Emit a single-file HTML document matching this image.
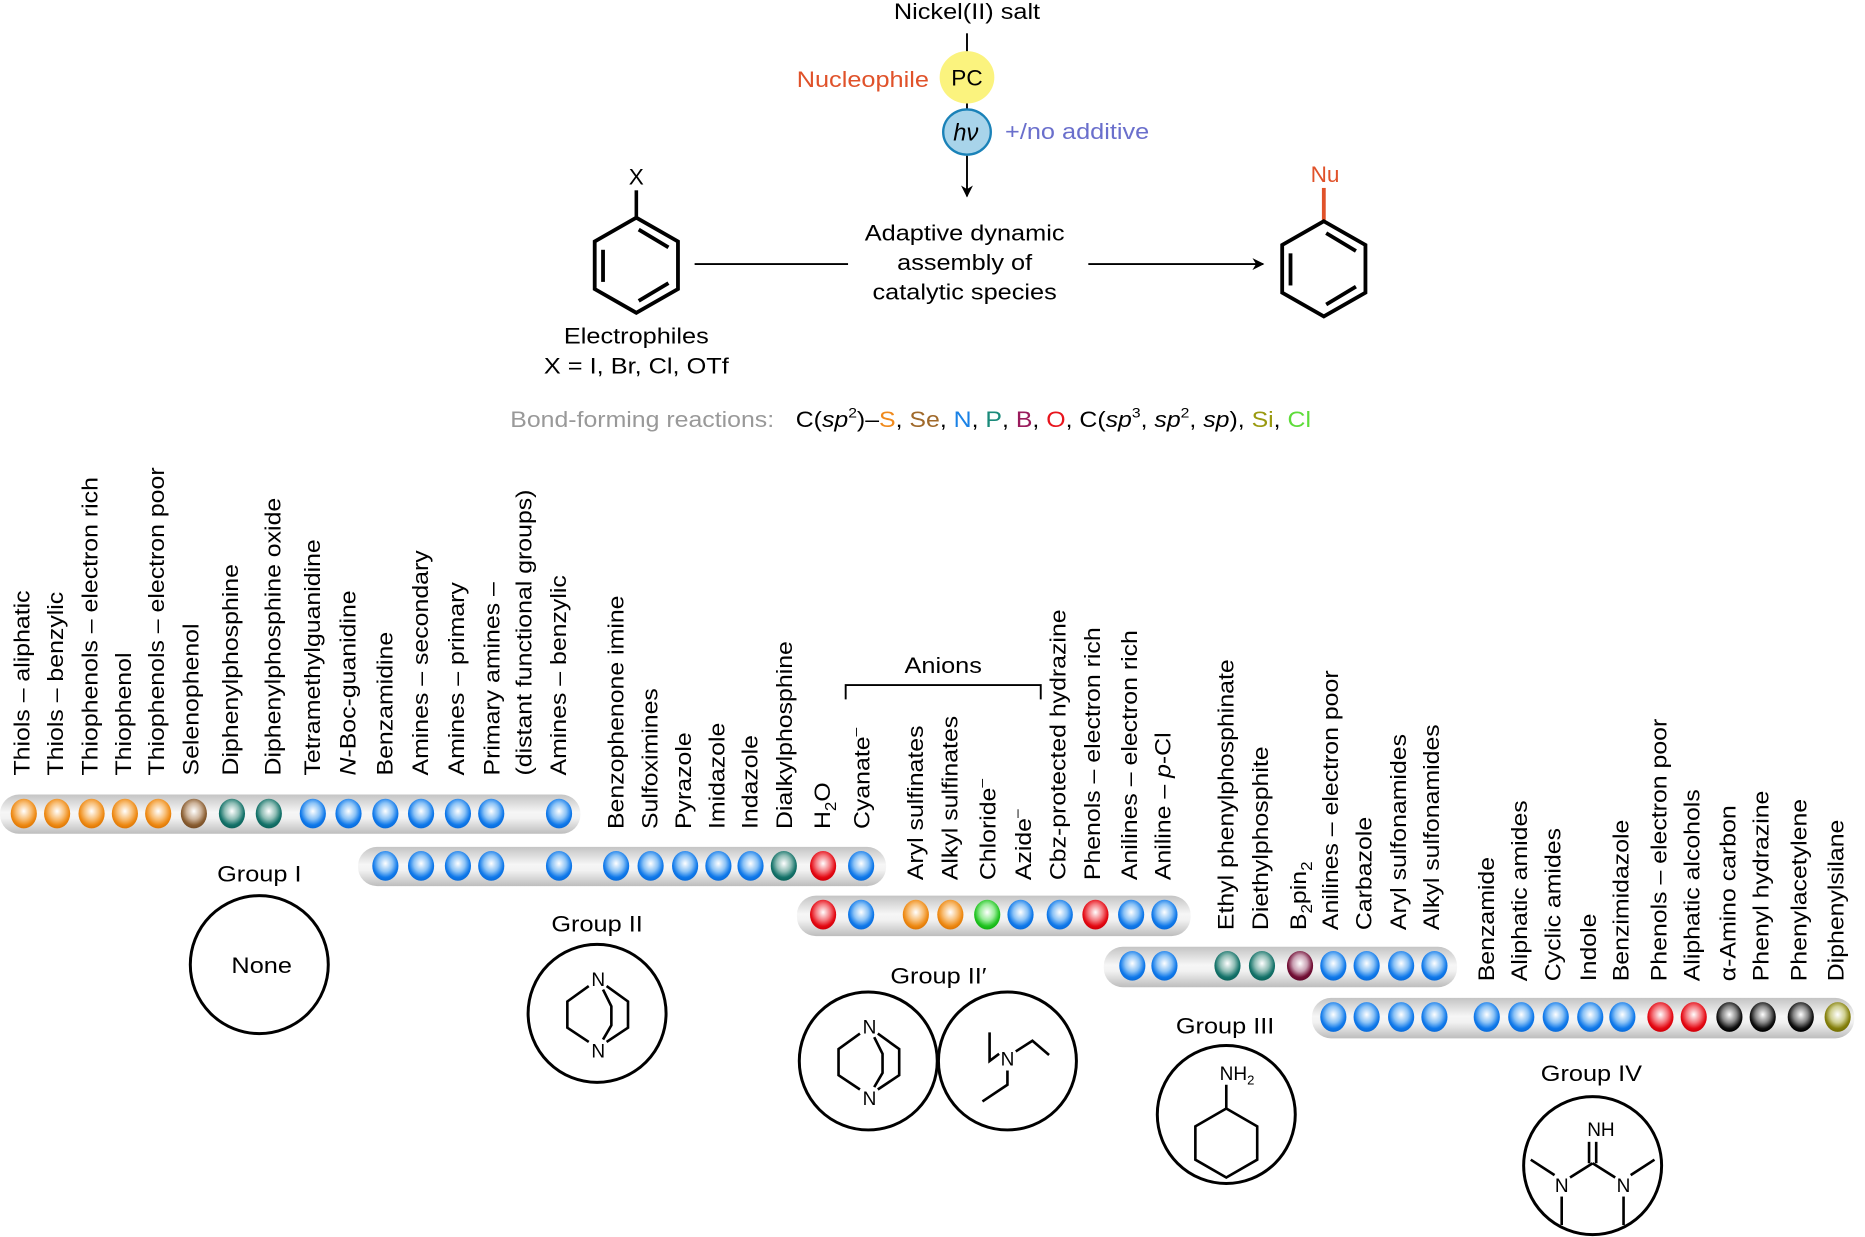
<!DOCTYPE html>
<html><head><meta charset="utf-8"><style>
html,body{margin:0;padding:0;background:#fff}
svg{display:block}
text{font-family:"Liberation Sans",Arial,sans-serif}
</style></head><body>
<svg width="1865" height="1237" viewBox="0 0 1568 1040" xmlns="http://www.w3.org/2000/svg">
<defs>
<radialGradient id="o" cx=".5" cy=".42" r=".55"><stop offset="0" stop-color="#fff"/><stop offset=".5" stop-color="#f8c07a"/><stop offset=".85" stop-color="#ee8a14"/><stop offset="1" stop-color="#e07a08"/></radialGradient>
<radialGradient id="w" cx=".5" cy=".42" r=".55"><stop offset="0" stop-color="#fff"/><stop offset=".5" stop-color="#cdb39a"/><stop offset=".85" stop-color="#8a5e32"/><stop offset="1" stop-color="#7a5028"/></radialGradient>
<radialGradient id="t" cx=".5" cy=".42" r=".55"><stop offset="0" stop-color="#fff"/><stop offset=".5" stop-color="#8fbdb5"/><stop offset=".85" stop-color="#15736a"/><stop offset="1" stop-color="#0e665e"/></radialGradient>
<radialGradient id="b" cx=".5" cy=".42" r=".55"><stop offset="0" stop-color="#fff"/><stop offset=".5" stop-color="#8cc3f6"/><stop offset=".85" stop-color="#1079ea"/><stop offset="1" stop-color="#0a6ede"/></radialGradient>
<radialGradient id="r" cx=".5" cy=".42" r=".55"><stop offset="0" stop-color="#fff"/><stop offset=".5" stop-color="#f47a80"/><stop offset=".85" stop-color="#e40a14"/><stop offset="1" stop-color="#d4000a"/></radialGradient>
<radialGradient id="g" cx=".5" cy=".42" r=".55"><stop offset="0" stop-color="#fff"/><stop offset=".5" stop-color="#98ec98"/><stop offset=".85" stop-color="#22c422"/><stop offset="1" stop-color="#14b414"/></radialGradient>
<radialGradient id="p" cx=".5" cy=".42" r=".55"><stop offset="0" stop-color="#fff"/><stop offset=".5" stop-color="#c9a0b3"/><stop offset=".85" stop-color="#731036"/><stop offset="1" stop-color="#660a2e"/></radialGradient>
<radialGradient id="k" cx=".5" cy=".42" r=".55"><stop offset="0" stop-color="#fff"/><stop offset=".5" stop-color="#888"/><stop offset=".85" stop-color="#111"/><stop offset="1" stop-color="#000"/></radialGradient>
<radialGradient id="y" cx=".5" cy=".42" r=".55"><stop offset="0" stop-color="#fff"/><stop offset=".5" stop-color="#cfcf90"/><stop offset=".85" stop-color="#85800c"/><stop offset="1" stop-color="#787306"/></radialGradient>
<linearGradient id="bar" x1="0" y1="0" x2="0" y2="1"><stop offset="0" stop-color="#c4c4c4"/><stop offset=".45" stop-color="#f6f6f6"/><stop offset=".6" stop-color="#f2f2f2"/><stop offset="1" stop-color="#bdbdbd"/></linearGradient>
<marker id="ah" markerWidth="10" markerHeight="10" refX="9" refY="5" orient="auto" markerUnits="userSpaceOnUse"><path d="M0,0 L10,5 L0,10 L3,5 Z" fill="#000"/></marker>
</defs>

<!-- top scheme -->
<g font-size="19" fill="#000">
<text transform="translate(813,16) scale(1.12,1)" text-anchor="middle">Nickel(II) salt</text>
<line x1="813" y1="28" x2="813" y2="44" stroke="#000" stroke-width="1.6"/>
<text transform="translate(781,73) scale(1.12,1)" text-anchor="end" fill="#e0522a">Nucleophile</text>
<ellipse cx="813" cy="65" rx="23" ry="22" fill="#fbf37e"/>
<text x="813" y="72" text-anchor="middle">PC</text>
<line x1="813" y1="87" x2="813" y2="92" stroke="#000" stroke-width="1.6"/>
<ellipse cx="813" cy="111" rx="20" ry="19" fill="#a8d4ea" stroke="#1a82b8" stroke-width="2"/>
<text x="812" y="118" text-anchor="middle" font-style="italic" font-family="Liberation Serif,serif" font-size="20">hν</text>
<text transform="translate(845,117) scale(1.12,1)" fill="#6a6fcc">+/no additive</text>
<line x1="813" y1="131" x2="813" y2="165" stroke="#000" stroke-width="1.6" marker-end="url(#ah)"/>

<text x="535" y="155" text-anchor="middle">X</text>
<line x1="535" y1="160" x2="535" y2="183" stroke="#000" stroke-width="3"/>
<g fill="none" stroke="#000" stroke-width="3.2">
<polygon points="535,183 570,203 570,243 535,263 500,243 500,203"/>
<line x1="507" y1="210" x2="507" y2="237"/>
<line x1="537" y1="193" x2="562" y2="208"/>
<line x1="537" y1="253" x2="562" y2="238"/>
</g>
<text transform="translate(535,289) scale(1.12,1)" text-anchor="middle">Electrophiles</text>
<text transform="translate(535,314) scale(1.12,1)" text-anchor="middle">X = I, Br, Cl, OTf</text>
<line x1="584" y1="222" x2="713" y2="222" stroke="#000" stroke-width="1.6"/>
<text transform="translate(811,202) scale(1.12,1)" text-anchor="middle">Adaptive dynamic</text>
<text transform="translate(811,227) scale(1.12,1)" text-anchor="middle">assembly of</text>
<text transform="translate(811,252) scale(1.12,1)" text-anchor="middle">catalytic species</text>
<line x1="915" y1="222" x2="1062" y2="222" stroke="#000" stroke-width="1.6" marker-end="url(#ah)"/>

<text x="1114" y="153" text-anchor="middle" fill="#e0522a">Nu</text>
<line x1="1113" y1="158" x2="1113" y2="186" stroke="#e0522a" stroke-width="3.2"/>
<g fill="none" stroke="#000" stroke-width="3.2">
<polygon points="1113,186 1148,206 1148,246 1113,266 1078,246 1078,206"/>
<line x1="1085" y1="213" x2="1085" y2="240"/>
<line x1="1115" y1="196" x2="1140" y2="211"/>
<line x1="1115" y1="256" x2="1140" y2="241"/>
</g>

<text transform="translate(429,359) scale(1.1,1)" fill="#999">Bond-forming reactions:</text>
<text transform="translate(669,359) scale(1.1,1)">C(<tspan font-style="italic">sp</tspan><tspan font-size="12" dy="-8">2</tspan><tspan dy="8">)–</tspan><tspan fill="#f08a1c">S</tspan>, <tspan fill="#a0692a">Se</tspan>, <tspan fill="#1a82e6">N</tspan>, <tspan fill="#1a8a7a">P</tspan>, <tspan fill="#9a1b5c">B</tspan>, <tspan fill="#e8141c">O</tspan>, C(<tspan font-style="italic">sp</tspan><tspan font-size="12" dy="-8">3</tspan><tspan dy="8">, </tspan><tspan font-style="italic">sp</tspan><tspan font-size="12" dy="-8">2</tspan><tspan dy="8">, </tspan><tspan font-style="italic">sp</tspan>), <tspan fill="#9a9a10">Si</tspan>, <tspan fill="#5edc3a">Cl</tspan></text>
</g>

<!-- vertical labels -->
<g font-size="19" fill="#000">
<text transform="translate(25,652) rotate(-90) scale(1.1,1)">Thiols – aliphatic</text>
<text transform="translate(53,652) rotate(-90) scale(1.1,1)">Thiols – benzylic</text>
<text transform="translate(82,652) rotate(-90) scale(1.1,1)">Thiophenols – electron rich</text>
<text transform="translate(110,652) rotate(-90) scale(1.1,1)">Thiophenol</text>
<text transform="translate(138,652) rotate(-90) scale(1.1,1)">Thiophenols – electron poor</text>
<text transform="translate(167,652) rotate(-90) scale(1.1,1)">Selenophenol</text>
<text transform="translate(200,652) rotate(-90) scale(1.1,1)">Diphenylphosphine</text>
<text transform="translate(236,652) rotate(-90) scale(1.1,1)">Diphenylphosphine oxide</text>
<text transform="translate(269,652) rotate(-90) scale(1.1,1)">Tetramethylguanidine</text>
<text transform="translate(299,652) rotate(-90) scale(1.1,1)"><tspan font-style="italic">N</tspan>-Boc-guanidine</text>
<text transform="translate(330,652) rotate(-90) scale(1.1,1)">Benzamidine</text>
<text transform="translate(360,652) rotate(-90) scale(1.1,1)">Amines – secondary</text>
<text transform="translate(390,652) rotate(-90) scale(1.1,1)">Amines – primary</text>
<text transform="translate(420,652) rotate(-90) scale(1.1,1)">Primary amines –</text>
<text transform="translate(447,652) rotate(-90) scale(1.1,1)">(distant functional groups)</text>
<text transform="translate(476,652) rotate(-90) scale(1.1,1)">Amines – benzylic</text>

<text transform="translate(524,697) rotate(-90) scale(1.1,1)">Benzophenone imine</text>
<text transform="translate(553,697) rotate(-90) scale(1.1,1)">Sulfoximines</text>
<text transform="translate(581,697) rotate(-90) scale(1.1,1)">Pyrazole</text>
<text transform="translate(609,697) rotate(-90) scale(1.1,1)">Imidazole</text>
<text transform="translate(637,697) rotate(-90) scale(1.1,1)">Indazole</text>
<text transform="translate(666,697) rotate(-90) scale(1.1,1)">Dialkylphosphine</text>
<text transform="translate(698,697) rotate(-90) scale(1.1,1)">H<tspan font-size="13" dy="5">2</tspan><tspan dy="-5">O</tspan></text>
<text transform="translate(731,697) rotate(-90) scale(1.1,1)">Cyanate<tspan font-size="12" dy="-8">–</tspan></text>

<text transform="translate(776,740) rotate(-90) scale(1.1,1)">Aryl sulfinates</text>
<text transform="translate(805,740) rotate(-90) scale(1.1,1)">Alkyl sulfinates</text>
<text transform="translate(837,740) rotate(-90) scale(1.1,1)">Chloride<tspan font-size="12" dy="-8">–</tspan></text>
<text transform="translate(867,740) rotate(-90) scale(1.1,1)">Azide<tspan font-size="12" dy="-8">–</tspan></text>
<text transform="translate(896,740) rotate(-90) scale(1.1,1)">Cbz-protected hydrazine</text>
<text transform="translate(925,740) rotate(-90) scale(1.1,1)">Phenols – electron rich</text>
<text transform="translate(956,740) rotate(-90) scale(1.1,1)">Anilines – electron rich</text>
<text transform="translate(984,740) rotate(-90) scale(1.1,1)">Aniline – <tspan font-style="italic">p</tspan>-Cl</text>

<text transform="translate(1037,782) rotate(-90) scale(1.1,1)">Ethyl phenylphosphinate</text>
<text transform="translate(1066,782) rotate(-90) scale(1.1,1)">Diethylphosphite</text>
<text transform="translate(1098,782) rotate(-90) scale(1.1,1)">B<tspan font-size="13" dy="5">2</tspan><tspan dy="-5">pin</tspan><tspan font-size="13" dy="5">2</tspan></text>
<text transform="translate(1125,782) rotate(-90) scale(1.1,1)">Anilines – electron poor</text>
<text transform="translate(1153,782) rotate(-90) scale(1.1,1)">Carbazole</text>
<text transform="translate(1182,782) rotate(-90) scale(1.1,1)">Aryl sulfonamides</text>
<text transform="translate(1210,782) rotate(-90) scale(1.1,1)">Alkyl sulfonamides</text>

<text transform="translate(1256,825) rotate(-90) scale(1.1,1)">Benzamide</text>
<text transform="translate(1284,825) rotate(-90) scale(1.1,1)">Aliphatic amides</text>
<text transform="translate(1312,825) rotate(-90) scale(1.1,1)">Cyclic amides</text>
<text transform="translate(1342,825) rotate(-90) scale(1.1,1)">Indole</text>
<text transform="translate(1369,825) rotate(-90) scale(1.1,1)">Benzimidazole</text>
<text transform="translate(1401,825) rotate(-90) scale(1.1,1)">Phenols – electron poor</text>
<text transform="translate(1429,825) rotate(-90) scale(1.1,1)">Aliphatic alcohols</text>
<text transform="translate(1459,825) rotate(-90) scale(1.1,1)">α-Amino carbon</text>
<text transform="translate(1487,825) rotate(-90) scale(1.1,1)">Phenyl hydrazine</text>
<text transform="translate(1519,825) rotate(-90) scale(1.1,1)">Phenylacetylene</text>
<text transform="translate(1550,825) rotate(-90) scale(1.1,1)">Diphenylsilane</text>

<text transform="translate(793,566) scale(1.12,1)" text-anchor="middle">Anions</text>
</g>
<polyline points="711,588 711,576 875,576 875,588" fill="none" stroke="#000" stroke-width="1.6"/>

<!-- bars -->
<rect x="0" y="668" width="488" height="33" rx="16" fill="url(#bar)"/>
<rect x="301" y="712" width="444" height="33" rx="16" fill="url(#bar)"/>
<rect x="670" y="753" width="331" height="34" rx="16" fill="url(#bar)"/>
<rect x="928" y="796" width="297" height="34" rx="16" fill="url(#bar)"/>
<rect x="1103" y="839" width="456" height="34" rx="16" fill="url(#bar)"/>

<!-- balls -->
<g>
<ellipse cx="20" cy="684" rx="11" ry="12.5" fill="url(#o)"/>
<ellipse cx="48" cy="684" rx="11" ry="12.5" fill="url(#o)"/>
<ellipse cx="77" cy="684" rx="11" ry="12.5" fill="url(#o)"/>
<ellipse cx="105" cy="684" rx="11" ry="12.5" fill="url(#o)"/>
<ellipse cx="133" cy="684" rx="11" ry="12.5" fill="url(#o)"/>
<ellipse cx="163" cy="684" rx="11" ry="12.5" fill="url(#w)"/>
<ellipse cx="195" cy="684" rx="11" ry="12.5" fill="url(#t)"/>
<ellipse cx="226" cy="684" rx="11" ry="12.5" fill="url(#t)"/>
<ellipse cx="263" cy="684" rx="11" ry="12.5" fill="url(#b)"/>
<ellipse cx="293" cy="684" rx="11" ry="12.5" fill="url(#b)"/>
<ellipse cx="324" cy="684" rx="11" ry="12.5" fill="url(#b)"/>
<ellipse cx="354" cy="684" rx="11" ry="12.5" fill="url(#b)"/>
<ellipse cx="385" cy="684" rx="11" ry="12.5" fill="url(#b)"/>
<ellipse cx="413" cy="684" rx="11" ry="12.5" fill="url(#b)"/>
<ellipse cx="470" cy="684" rx="11" ry="12.5" fill="url(#b)"/>

<ellipse cx="324" cy="728" rx="11" ry="12.5" fill="url(#b)"/>
<ellipse cx="354" cy="728" rx="11" ry="12.5" fill="url(#b)"/>
<ellipse cx="385" cy="728" rx="11" ry="12.5" fill="url(#b)"/>
<ellipse cx="413" cy="728" rx="11" ry="12.5" fill="url(#b)"/>
<ellipse cx="470" cy="728" rx="11" ry="12.5" fill="url(#b)"/>
<ellipse cx="518" cy="728" rx="11" ry="12.5" fill="url(#b)"/>
<ellipse cx="547" cy="728" rx="11" ry="12.5" fill="url(#b)"/>
<ellipse cx="576" cy="728" rx="11" ry="12.5" fill="url(#b)"/>
<ellipse cx="604" cy="728" rx="11" ry="12.5" fill="url(#b)"/>
<ellipse cx="631" cy="728" rx="11" ry="12.5" fill="url(#b)"/>
<ellipse cx="659" cy="728" rx="11" ry="12.5" fill="url(#t)"/>
<ellipse cx="692" cy="728" rx="11" ry="12.5" fill="url(#r)"/>
<ellipse cx="724" cy="728" rx="11" ry="12.5" fill="url(#b)"/>

<ellipse cx="692" cy="769" rx="11" ry="12.5" fill="url(#r)"/>
<ellipse cx="724" cy="769" rx="11" ry="12.5" fill="url(#b)"/>
<ellipse cx="770" cy="769" rx="11" ry="12.5" fill="url(#o)"/>
<ellipse cx="799" cy="769" rx="11" ry="12.5" fill="url(#o)"/>
<ellipse cx="830" cy="769" rx="11" ry="12.5" fill="url(#g)"/>
<ellipse cx="858" cy="769" rx="11" ry="12.5" fill="url(#b)"/>
<ellipse cx="891" cy="769" rx="11" ry="12.5" fill="url(#b)"/>
<ellipse cx="921" cy="769" rx="11" ry="12.5" fill="url(#r)"/>
<ellipse cx="951" cy="769" rx="11" ry="12.5" fill="url(#b)"/>
<ellipse cx="979" cy="769" rx="11" ry="12.5" fill="url(#b)"/>

<ellipse cx="952" cy="812" rx="11" ry="12.5" fill="url(#b)"/>
<ellipse cx="979" cy="812" rx="11" ry="12.5" fill="url(#b)"/>
<ellipse cx="1032" cy="812" rx="11" ry="12.5" fill="url(#t)"/>
<ellipse cx="1061" cy="812" rx="11" ry="12.5" fill="url(#t)"/>
<ellipse cx="1093" cy="812" rx="11" ry="12.5" fill="url(#p)"/>
<ellipse cx="1121" cy="812" rx="11" ry="12.5" fill="url(#b)"/>
<ellipse cx="1149" cy="812" rx="11" ry="12.5" fill="url(#b)"/>
<ellipse cx="1178" cy="812" rx="11" ry="12.5" fill="url(#b)"/>
<ellipse cx="1206" cy="812" rx="11" ry="12.5" fill="url(#b)"/>

<ellipse cx="1121" cy="855" rx="11" ry="12.5" fill="url(#b)"/>
<ellipse cx="1149" cy="855" rx="11" ry="12.5" fill="url(#b)"/>
<ellipse cx="1178" cy="855" rx="11" ry="12.5" fill="url(#b)"/>
<ellipse cx="1206" cy="855" rx="11" ry="12.5" fill="url(#b)"/>
<ellipse cx="1250" cy="855" rx="11" ry="12.5" fill="url(#b)"/>
<ellipse cx="1279" cy="855" rx="11" ry="12.5" fill="url(#b)"/>
<ellipse cx="1308" cy="855" rx="11" ry="12.5" fill="url(#b)"/>
<ellipse cx="1337" cy="855" rx="11" ry="12.5" fill="url(#b)"/>
<ellipse cx="1364" cy="855" rx="11" ry="12.5" fill="url(#b)"/>
<ellipse cx="1396" cy="855" rx="11" ry="12.5" fill="url(#r)"/>
<ellipse cx="1424" cy="855" rx="11" ry="12.5" fill="url(#r)"/>
<ellipse cx="1454" cy="855" rx="11" ry="12.5" fill="url(#k)"/>
<ellipse cx="1482" cy="855" rx="11" ry="12.5" fill="url(#k)"/>
<ellipse cx="1514" cy="855" rx="11" ry="12.5" fill="url(#k)"/>
<ellipse cx="1545" cy="855" rx="11" ry="12.5" fill="url(#y)"/>
</g>

<!-- groups -->
<g font-size="19" fill="#000">
<text transform="translate(218,741) scale(1.12,1)" text-anchor="middle">Group I</text>
<text transform="translate(502,783) scale(1.12,1)" text-anchor="middle">Group II</text>
<text transform="translate(789,827) scale(1.12,1)" text-anchor="middle">Group II′</text>
<text transform="translate(1030,869) scale(1.12,1)" text-anchor="middle">Group III</text>
<text transform="translate(1338,909) scale(1.12,1)" text-anchor="middle">Group IV</text>
<text transform="translate(220,818) scale(1.12,1)" text-anchor="middle">None</text>
</g>
<g fill="none" stroke="#000" stroke-width="2.5">
<circle cx="218" cy="811" r="58"/>
<circle cx="502" cy="852" r="58"/>
<circle cx="730" cy="892" r="58"/>
<circle cx="847" cy="892" r="58"/>
<circle cx="1031" cy="937" r="58"/>
<circle cx="1339" cy="980" r="58"/>
</g>

<g fill="none" stroke="#000" stroke-width="2.2">
<polyline points="495,829 477,842 477,864 495,876"/>
<polyline points="510,829 528,842 528,864 510,876"/>
<polyline points="507,832 514,846 514,862 507,874"/>
<polyline points="723,869 705,882 705,904 723,916"/>
<polyline points="738,869 756,882 756,904 738,916"/>
<polyline points="735,872 742,886 742,902 735,914"/>
</g>
<g font-size="16" fill="#000" text-anchor="middle">
<text x="503" y="829">N</text>
<text x="503" y="889">N</text>
<text x="731" y="869">N</text>
<text x="731" y="929">N</text>
<text x="847" y="896">N</text>
<text x="1040" y="908">NH<tspan font-size="11" dy="4">2</tspan></text>
<text x="1346" y="955">NH</text>
<text x="1313" y="1002">N</text>
<text x="1365" y="1002">N</text>
</g>
<g fill="none" stroke="#000" stroke-width="2.2">
<polyline points="832,868 832,892 840,886"/>
<polyline points="854,884 868,875 882,887"/>
<polyline points="847,900 847,912 826,926"/>
</g>
<g fill="none" stroke="#000" stroke-width="2.2">
<line x1="1031" y1="912" x2="1031" y2="932"/>
<polygon points="1031,932 1057,947 1057,975 1031,990 1005,975 1005,947"/>
</g>
<g fill="none" stroke="#000" stroke-width="2.2">
<line x1="1336" y1="960" x2="1336" y2="978"/>
<line x1="1342" y1="960" x2="1342" y2="978"/>
<line x1="1339" y1="978" x2="1320" y2="990"/>
<line x1="1339" y1="978" x2="1358" y2="990"/>
<line x1="1307" y1="988" x2="1287" y2="975"/>
<line x1="1371" y1="988" x2="1391" y2="975"/>
<line x1="1313" y1="1006" x2="1313" y2="1030"/>
<line x1="1365" y1="1006" x2="1365" y2="1030"/>
</g>
</svg>
</body></html>
